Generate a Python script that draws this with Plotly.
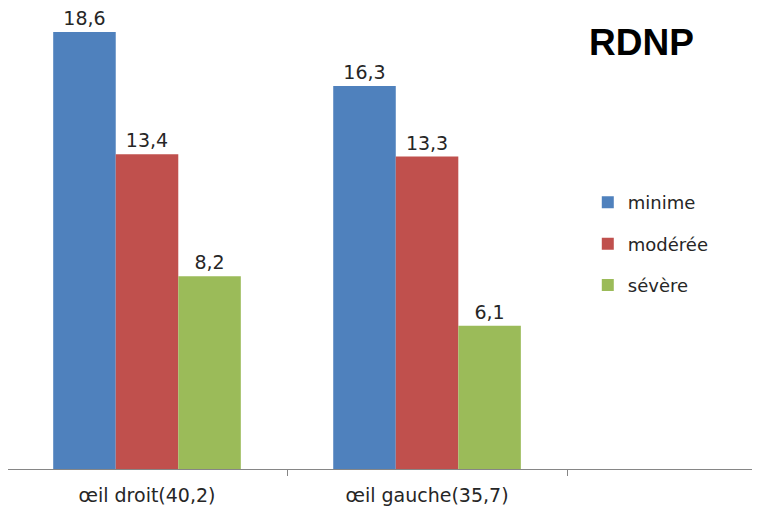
import plotly.graph_objects as go

categories = ["œil droit(40,2)", "œil gauche(35,7)"]
series_names = ["minime", "modérée", "sévère"]
minime = [18.6, 16.3]
moderee = [13.4, 13.3]
severe = [8.2, 6.1]
colors = ["#4F81BD", "#C0504D", "#9BBB59"]

fig = go.Figure()
for i, (name, vals) in enumerate(zip(series_names, [minime, moderee, severe])):
    fig.add_trace(go.Bar(
        x=categories, y=vals, name=name, legendgroup=name,
        marker=dict(color=colors[i], line=dict(width=0)),
        texttemplate="%{y:.1f}", textposition="outside", cliponaxis=False,
        textfont=dict(family="DejaVu Sans", size=19, color="#262626"),
    ))

fig.update_layout(
    width=752, height=504,
    margin=dict(l=0, r=0, t=0, b=43, autoexpand=False),
    paper_bgcolor="white", plot_bgcolor="white",
    barmode="group", bargap=0.33, bargroupgap=0,
    separators=", ",
    showlegend=True,
    legend=dict(x=0.771, y=0.618, xanchor="left", yanchor="top",
                font=dict(family="DejaVu Sans", size=18, color="#262626"),
                tracegroupgap=15, bgcolor="rgba(0,0,0,0)"),
    xaxis=dict(type="category", categoryorder="array", categoryarray=categories,
               range=[-0.4964, 2.189], tickson="boundaries", ticks="outside",
               ticklen=6, tickcolor="#868686", showline=True, linecolor="#868686",
               linewidth=1, showgrid=False, ticklabelstandoff=9, automargin=False,
               tickfont=dict(family="DejaVu Sans", size=19, color="#262626")),
    yaxis=dict(range=[0, 19.62], visible=False, showgrid=False, automargin=False),
    annotations=[dict(text="<b>RDNP</b>", xref="paper", yref="paper",
                      x=0.8418, y=0.926, xanchor="center", yanchor="middle",
                      showarrow=False,
                      font=dict(family="Liberation Sans", size=37, color="black"))],
)

fig.write_html("out.html")
